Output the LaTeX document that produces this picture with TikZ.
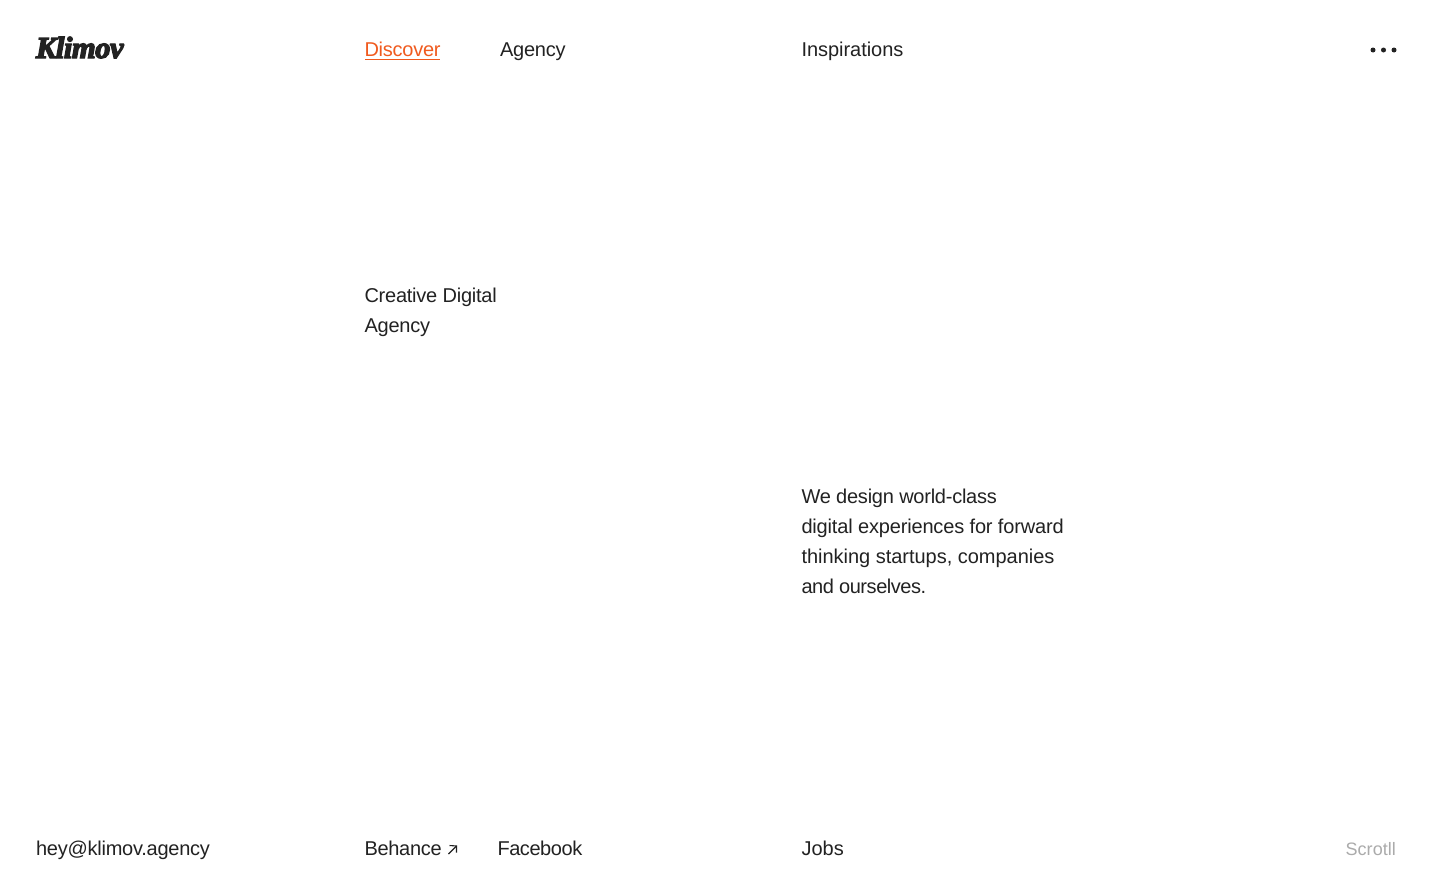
\documentclass[tikz,border=0pt]{standalone}
\usepackage{fontspec}
\setmainfont{Liberation Sans}
\newfontfamily\bodyfont[LetterSpace=-1.2]{Liberation Sans}
\newcommand{\trk}[1]{\addfontfeature{LetterSpace=#1}}
\newfontfamily\logofont[FakeBold=4.5,LetterSpace=-1.5]{Liberation Serif Bold Italic}
\definecolor{ink}{HTML}{222222}
\definecolor{accent}{HTML}{F05A1E}
\definecolor{muted}{HTML}{ABABAB}
\tikzset{
  label/.style={anchor=base west,inner sep=0pt,outer sep=0pt,text=ink,font=\bodyfont\fontsize{20}{30}\selectfont},
  dotmark/.style={circle,fill=ink,inner sep=0pt,minimum size=5pt},
}
\begin{document}
\begin{tikzpicture}[x=1pt,y=-1pt]
\useasboundingbox[fill=white] (0,0) rectangle (1432,894);
\node[label,font=\logofont\fontsize{30.5}{31}\selectfont] (logo) at (36,58) {Klimov};
\node[label,text=accent] (discover) at (364.5,56) {Discover};
\node[label] (agency) at (500,56) {Agency};
\node[label] (insp) at (801.5,56) {\trk{-0.2}Inspirations};
\node[dotmark] (d1) at (1373,50) {};
\node[dotmark] (d2) at (1383.5,50) {};
\node[dotmark] (d3) at (1394,50) {};
\draw[draw=accent,line width=1.2pt] (365,59.6) -- (440,59.6);
\node[label] (c1) at (364.5,302) {Creative Digital};
\node[label] (c2) at (364.5,332) {Agency};
\node[label] (w1) at (801.5,503) {We design world-class};
\node[label] (w2) at (801.5,533) {\trk{-0.85}digital experiences for forward};
\node[label] (w3) at (801.5,563) {\trk{-0.1}thinking startups, companies};
\node[label] (w4) at (801.5,593) {\trk{-2.2}and ourselves.};
\node[label] (mail) at (36,855) {hey@klimov.agency};
\node[label] (beh) at (364.5,855) {\trk{-1.5}Behance};
\coordinate (a0) at (448.5,854);
\coordinate (a1) at (456.5,846);
\draw[ink,line width=1.1pt] (a0) -- (a1);
\draw[ink,line width=1.1pt] (449.5,845.5) -- (a1) -- (456.5,852.5);
\node[label] (fb) at (497.5,855) {\trk{-2.2}Facebook};
\node[label] (jobs) at (801.5,855) {\trk{0}Jobs};
\node[label,anchor=base east,text=muted,font=\bodyfont\fontsize{18}{24}\selectfont] (scr) at (1396,855) {\trk{0.4}Scrotll};
\end{tikzpicture}
\end{document}
